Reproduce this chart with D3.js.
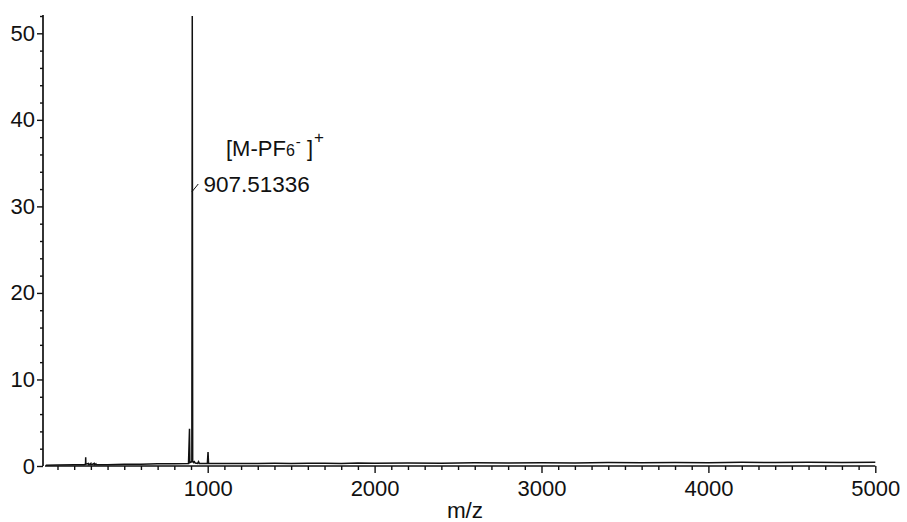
<!DOCTYPE html>
<html>
<head>
<meta charset="utf-8">
<script src="https://cdn.jsdelivr.net/npm/d3@7"></script>
<style>
  html, body { margin: 0; padding: 0; background: #fff; }
  svg { display: block; }
  text { font-family: "Liberation Sans", Arial, sans-serif; fill: #111; }
</style>
</head>
<body>
<svg id="chart" width="907" height="522"></svg>
<script>
// ---- data ----
const mzValues = [30, 100, 200, 260, 268, 269, 270, 285, 286, 290, 300, 301, 310, 320, 321, 330, 331, 400, 500, 600, 700, 800, 885, 891, 893, 905, 907.5, 910, 915, 920, 925, 940, 945, 950, 998, 1002, 1005, 1100, 1200, 1300, 1400, 1500, 1600, 1700, 1800, 1900, 2000, 2200, 2400, 2600, 2800, 3000, 3200, 3400, 3600, 3800, 4000, 4200, 4400, 4600, 4800, 5000];
const intensityValues = [0.1, 0.12, 0.15, 0.15, 0.2, 1.0, 0.2, 0.3, 0.15, 0.15, 0.3, 0.15, 0.2, 0.3, 0.15, 0.25, 0.15, 0.15, 0.2, 0.2, 0.25, 0.25, 0.3, 4.3, 0.4, 0.5, 52, 0.6, 0.4, 0.5, 0.35, 0.3, 0.5, 0.3, 0.3, 1.6, 0.3, 0.3, 0.3, 0.3, 0.32, 0.3, 0.33, 0.32, 0.3, 0.35, 0.33, 0.35, 0.33, 0.38, 0.35, 0.38, 0.36, 0.4, 0.37, 0.4, 0.38, 0.42, 0.4, 0.43, 0.4, 0.42];
const xMajorTicks = [1000, 2000, 3000, 4000, 5000];
const xMinorTicks = d3.range(100, 5001, 100).filter(v => v % 1000 !== 0);
const yMajorTicks = [0, 10, 20, 30, 40, 50];
const yMinorTicks = [2, 4, 6, 8, 12, 14, 16, 18, 22, 24, 26, 28, 32, 34, 36, 38, 42, 44, 46, 48, 52];
const peakLabelMz = 907.51336;
const peakLabelText = "907.51336";
const xAxisTitle = "m/z";

// ---- layout ----
const svg = d3.select("#chart");
const x = d3.scaleLinear().domain([0, 5000]).range([40.8, 875.3]);
const y = d3.scaleLinear().domain([0, 52]).range([466, 16]);
const xStart = 25;
const yAxisX = 43;

// spectrum line
const pts = mzValues.map((m, i) => [m, intensityValues[i]]);
svg.append("path")
  .datum(pts)
  .attr("fill", "none")
  .attr("stroke", "#111")
  .attr("stroke-width", 1.5)
  .attr("stroke-linejoin", "miter")
  .attr("d", d3.line().x(d => x(d[0])).y(d => y(d[1])));

// x axis
const xAxisG = svg.append("g").attr("transform", `translate(0,${y(0)})`);
xAxisG.append("line")
  .attr("x1", x(xStart)).attr("x2", x(5000))
  .attr("y1", 0).attr("y2", 0)
  .attr("stroke", "#111").attr("stroke-width", 1.7);
const xMinor = xAxisG.append("g")
  .call(d3.axisBottom(x).tickValues(xMinorTicks).tickSize(4).tickFormat(""));
const xMajor = xAxisG.append("g")
  .call(d3.axisBottom(x).tickValues(xMajorTicks).tickSize(7).tickPadding(7).tickFormat(d3.format("d")));
[xMinor, xMajor].forEach(g => {
  g.select(".domain").remove();
  g.selectAll(".tick line").attr("stroke", "#111").attr("stroke-width", 1.4);
});
xMajor.selectAll(".tick text").attr("font-size", 22).attr("fill", "#111")
  .style("font-family", '"Liberation Sans", Arial, sans-serif');

// y axis
const yAxisG = svg.append("g").attr("transform", `translate(${yAxisX},0)`);
yAxisG.append("line")
  .attr("x1", 0).attr("x2", 0)
  .attr("y1", y(0)).attr("y2", y(52) - 1)
  .attr("stroke", "#111").attr("stroke-width", 1.7);
const yMinor = yAxisG.append("g")
  .call(d3.axisLeft(y).tickValues(yMinorTicks).tickSize(3).tickFormat(""));
const yMajor = yAxisG.append("g")
  .call(d3.axisLeft(y).tickValues(yMajorTicks).tickSize(6).tickPadding(2).tickFormat(d3.format("d")));
[yMinor, yMajor].forEach(g => {
  g.select(".domain").remove();
  g.selectAll(".tick line").attr("stroke", "#111").attr("stroke-width", 1.4);
});
yMajor.selectAll(".tick text").attr("font-size", 22).attr("fill", "#111")
  .style("font-family", '"Liberation Sans", Arial, sans-serif');

// x axis title
svg.append("text")
  .attr("x", 465).attr("y", 518)
  .attr("text-anchor", "middle")
  .attr("font-size", 22.5)
  .text(xAxisTitle);

// peak annotation
const px = x(peakLabelMz);
svg.append("line")
  .attr("x1", px - 0.5).attr("y1", 192)
  .attr("x2", px + 6).attr("y2", 184)
  .attr("stroke", "#111").attr("stroke-width", 1);
svg.append("text")
  .attr("x", 203.5).attr("y", 192)
  .attr("font-size", 22.5)
  .text(peakLabelText);

const ion = svg.append("text").attr("x", 226).attr("y", 156).attr("font-size", 22);
ion.append("tspan").text("[M-PF");
ion.append("tspan").attr("font-size", 16).text("6");
ion.append("tspan").attr("font-size", 15).attr("dx", 1).attr("dy", -9).text("-");
ion.append("tspan").attr("font-size", 22).attr("dy", 9).text(" ]");
ion.append("tspan").attr("font-size", 17).attr("dx", 1).attr("dy", -13).text("+");
</script>
</body>
</html>
